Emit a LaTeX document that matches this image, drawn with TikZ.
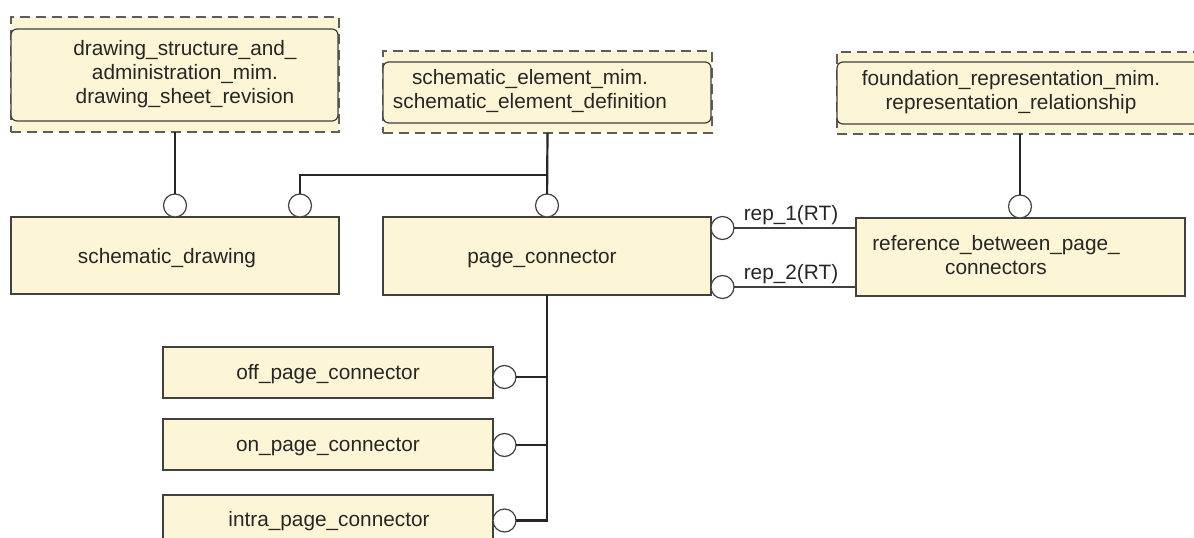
\documentclass[tikz,border=0pt]{standalone}
\usepackage{fontspec}
\setmainfont{Liberation Sans}
\usetikzlibrary{positioning}

\definecolor{boxfill}{RGB}{252,246,214}
\definecolor{boxline}{RGB}{64,64,64}

\tikzset{
  entity/.style={draw=boxline, line width=1.2pt, fill=boxfill, inner sep=0pt, outer sep=0pt},
  mimbox/.style={entity, rounded corners=6pt},
  dashbox/.style={draw=boxline!85, fill=boxfill, dash pattern=on 10pt off 6pt, line width=1.3pt, inner sep=0pt, outer sep=0pt},
  ring/.style={circle, draw=boxline, fill=white, line width=1.2pt, minimum size=23pt, inner sep=0pt, outer sep=0pt},
  txt/.style={font=\fontsize{20.8}{24}\selectfont, text=black!85, align=center, inner sep=0pt},
  link/.style={line width=2.2pt, black!85},
  rel/.style={line width=1.1pt, black!75},
}

\begin{document}
\begin{tikzpicture}[x=1pt,y=-1pt]
        \path[fill=white, use as bounding box] (0,0) rectangle (1194,538);
        \clip (0,0) rectangle (1194,538);
        % Imported entities in dashed frames
        \node[dashbox, minimum width=328, minimum height=115] (dsa-o) at (175,74.5) {};
        \node[mimbox, minimum width=327, minimum height=92] (dsa) at (174.5,75) {};
        \node[txt] (dsa-t) at (185,74) {drawing\_structure\_and\_\\administration\_mim.\\drawing\_sheet\_revision};
        \node[dashbox, minimum width=329, minimum height=82] (sem-o) at (547.5,92) {};
        \node[mimbox, minimum width=328, minimum height=61] (sem) at (547,92.5) {};
        \node[txt] (sem-t) at (530,91.5) {schematic\_element\_mim.\\schematic\_element\_definition};
        \node[dashbox, minimum width=366, minimum height=82] (frm-o) at (1020,93) {};
        \node[mimbox, minimum width=366, minimum height=62] (frm) at (1020,93) {};
        \node[txt] (frm-t) at (1011,92) {foundation\_representation\_mim.\\representation\_relationship};
        % Entities of this schema
        \node[entity, minimum width=328, minimum height=77] (sd) at (175,255.5) {};
        \node[txt] (sd-t) at (167,258) {schematic\_drawing};
        \node[entity, minimum width=328, minimum height=78] (pc) at (547,256) {};
        \node[txt] (pc-t) at (542,259) {page\_connector};
        \node[entity, minimum width=329, minimum height=78] (rbpc) at (1020.5,257) {};
        \node[txt] (rbpc-t) at (996,255) {reference\_between\_page\_\\connectors};
        \node[entity, minimum width=330, minimum height=51] (off) at (328,372.5) {};
        \node[txt] (off-t) at (328,374) {off\_page\_connector};
        \node[entity, minimum width=330, minimum height=51] (on) at (328,444.5) {};
        \node[txt] (on-t) at (328,447) {on\_page\_connector};
        \node[entity, minimum width=330, minimum height=51] (intra) at (328,520.5) {};
        \node[txt] (intra-t) at (329,521) {intra\_page\_connector};
        % Rings
        \node[ring, anchor=south] (sd-r1) at (sd.north -| dsa-o.south) {};
        \node[ring, anchor=south] (sd-r2) at (300,217) {};
        \node[ring, anchor=south] (pc-r) at (pc.north) {};
        \node[ring, anchor=south] (rb-r) at (rbpc.north -| frm-o.south) {};
        \node[ring, anchor=west] (rep1-r) at (pc.east |- 0,228) {};
        \node[ring, anchor=west] (rep2-r) at (pc.east |- 0,287) {};
        \node[ring, anchor=west] (off-r) at (off.east |- 0,377) {};
        \node[ring, anchor=west] (on-r) at (on.east |- 0,445) {};
        \node[ring, anchor=west] (intra-r) at (intra.east) {};
        % Connectors
        \coordinate (j1) at (sem-o.south |- 0,175);
        \draw[link] (dsa-o.south) -- (sd-r1);
        \draw[link] (sem-o.south) -- (pc-r);
        \draw[link] (sd-r2) |- (j1);
        \draw[link] (frm-o.south) -- (rb-r);
        \draw[rel] (rep1-r) -- (rep1-r -| rbpc.west) node[midway, above=3pt, xshift=-4pt, txt] (rep1-l) {rep\_1(RT)};
        \draw[rel] (rep2-r) -- (rep2-r -| rbpc.west) node[midway, above=3pt, xshift=-4pt, txt] (rep2-l) {rep\_2(RT)};
        \draw[link] (pc) -- (pc.south |- intra-r) -- (intra-r);
        \foreach \n in {off-r, on-r} \draw[link] (\n) -- (\n -| pc.south);
    \end{tikzpicture}
\end{document}
